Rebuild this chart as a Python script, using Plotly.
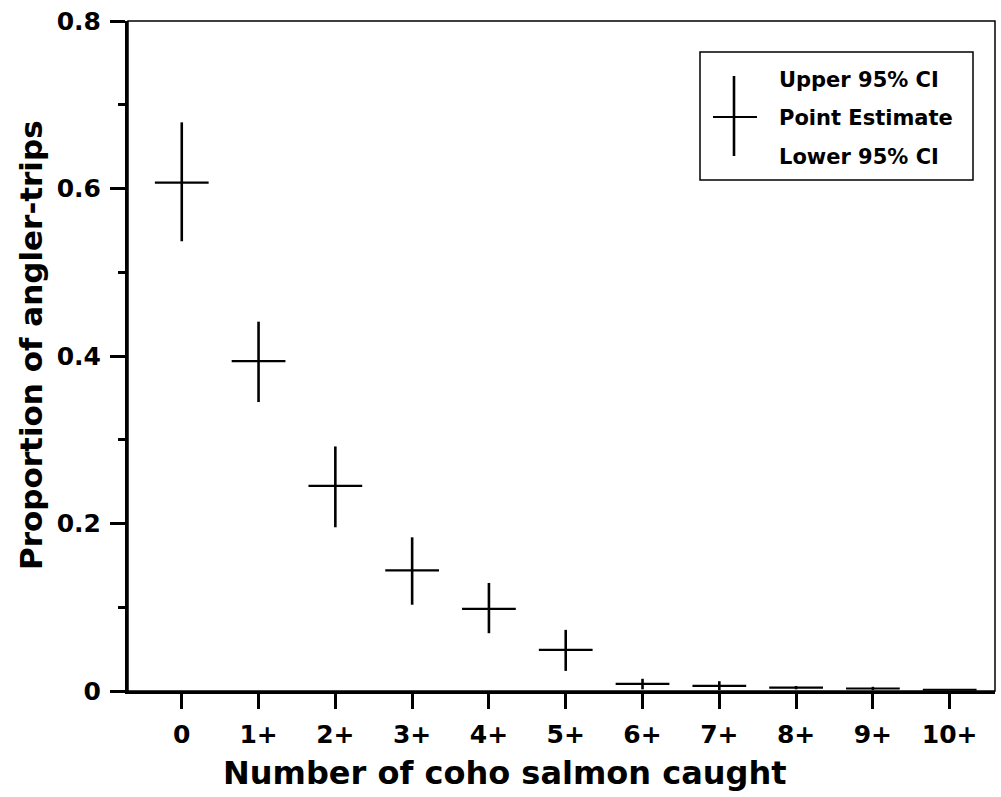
import plotly.graph_objects as go

categories = ["0", "1+", "2+", "3+", "4+", "5+", "6+", "7+", "8+", "9+", "10+"]
x_pos = list(range(len(categories)))
point_est = [0.607, 0.394, 0.245, 0.144, 0.098, 0.049, 0.0084, 0.0062, 0.004, 0.003, 0.0015]
upper_ci = [0.679, 0.441, 0.292, 0.1835, 0.129, 0.073, 0.0146, 0.0117, 0.006, 0.005, 0.002]
lower_ci = [0.537, 0.345, 0.1955, 0.103, 0.069, 0.024, 0.002, 0.001, 0.002, 0.001, 0.001]
half_width = [0.35] * len(categories)

y_ticks = [0, 0.2, 0.4, 0.6, 0.8]
y_tick_text = ["0", "0.2", "0.4", "0.6", "0.8"]

FONT = "DejaVu Sans"

fig = go.Figure()
fig.add_trace(go.Scatter(
    x=x_pos, y=point_est, mode="markers",
    marker=dict(size=1, color="black", opacity=0),
    error_y=dict(type="data", symmetric=False,
                 array=[u - p for u, p in zip(upper_ci, point_est)],
                 arrayminus=[p - l for p, l in zip(point_est, lower_ci)],
                 color="black", thickness=2.6, width=0),
    error_x=dict(type="data", array=half_width, color="black", thickness=2.2, width=0),
    showlegend=False, hoverinfo="skip",
))

fig.update_layout(
    width=1001, height=797,
    margin=dict(l=128, r=6, t=21, b=106),
    plot_bgcolor="white", paper_bgcolor="white",
    font=dict(family=FONT, size=22, color="black", weight="bold"),
    xaxis=dict(range=[-0.70, 10.59], tickmode="array", tickvals=x_pos, ticktext=categories,
               showgrid=False, zeroline=False, showline=True, linecolor="black", linewidth=3,
               ticks="outside", ticklen=15, tickwidth=2.5, tickcolor="black",
               tickfont=dict(family=FONT, size=25, weight="bold"), ticklabelstandoff=4),
    yaxis=dict(range=[0, 0.8], tickmode="array", tickvals=y_ticks, ticktext=y_tick_text,
               showgrid=False, zeroline=False, showline=True, linecolor="black", linewidth=3,
               ticks="outside", ticklen=15, tickwidth=2.5, tickcolor="black",
               minor=dict(dtick=0.1, ticks="outside", ticklen=7, tickwidth=2.5, tickcolor="black"),
               tickfont=dict(family=FONT, size=25, weight="bold"), ticklabelstandoff=4),
)

# frame (top and right borders)
fig.add_shape(type="rect", xref="paper", yref="paper", x0=0, x1=1, y0=0, y1=1,
              line=dict(color="black", width=1.5), layer="above")

# axis titles
fig.add_annotation(text="Number of coho salmon caught", xref="paper", yref="paper",
                   x=(505 - 128) / 867, y=-(773 - 691) / 670, showarrow=False,
                   xanchor="center", yanchor="middle",
                   font=dict(family=FONT, size=32, weight="bold"))
fig.add_annotation(text="Proportion of angler-trips", xref="paper", yref="paper",
                   x=-(128 - 31) / 867, y=(691 - 345) / 670, showarrow=False, textangle=-90,
                   xanchor="center", yanchor="middle",
                   font=dict(family=FONT, size=31, weight="bold"))

# legend box
def px(xp):
    return (xp - 128) / 867

def py(yp):
    return (691 - yp) / 670

fig.add_shape(type="rect", xref="paper", yref="paper", x0=px(700), x1=px(973), y0=py(180), y1=py(52),
              line=dict(color="black", width=1.5))
fig.add_shape(type="line", xref="paper", yref="paper", x0=px(734), x1=px(734), y0=py(156), y1=py(76),
              line=dict(color="black", width=2.6))
fig.add_shape(type="line", xref="paper", yref="paper", x0=px(713), x1=px(757), y0=py(117), y1=py(117),
              line=dict(color="black", width=2.2))
for label, yc in [("Upper 95% CI", 80), ("Point Estimate", 118), ("Lower 95% CI", 157)]:
    fig.add_annotation(text=label, xref="paper", yref="paper", x=px(777), y=py(yc),
                       showarrow=False, xanchor="left", yanchor="middle",
                       font=dict(family=FONT, size=21, weight="bold"))

fig.write_html("out.html")
